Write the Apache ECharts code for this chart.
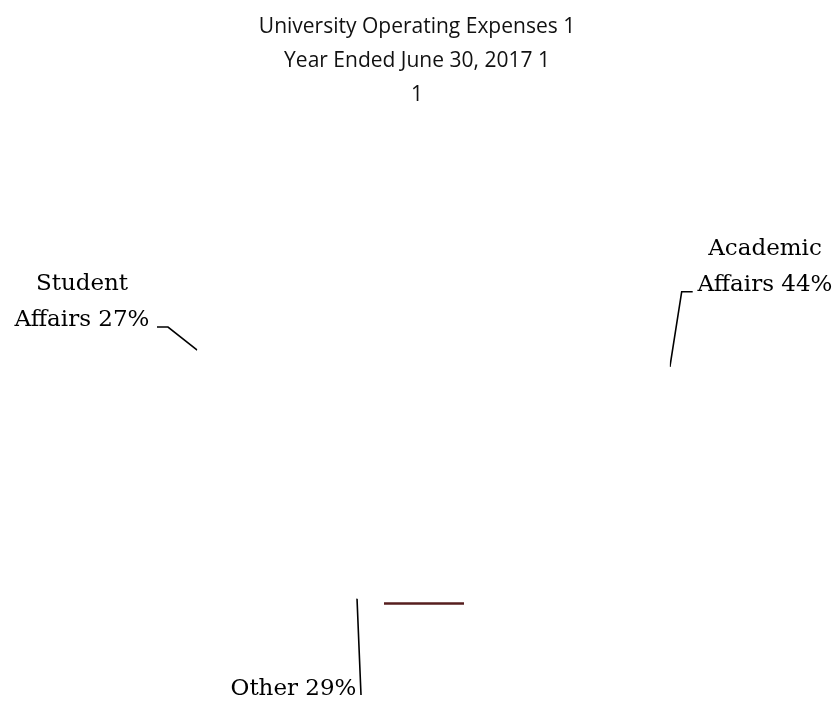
<!DOCTYPE html>
<html>
<head>
<meta charset="utf-8">
<script src="https://cdn.jsdelivr.net/npm/echarts@6/dist/echarts.min.js"></script>
<style>
html,body{margin:0;padding:0;background:#fff;}
#chart{width:834px;height:702px;}
</style>
</head>
<body>
<div id="chart"></div>
<script>
// Data
var titleLines = ['University Operating Expenses 1', 'Year Ended June 30, 2017 1', '1'];
var categories = ['Academic Affairs', 'Other', 'Student Affairs'];
var values = [44, 29, 27];

// Layout settings (not data)
var pieCenter = [433, 374];
var pieRadius = 237;
// angle (degrees clockwise from top) where each leader line touches the pie
var anchorAngles = [88.3, 198.7, 275.8];
var labelPlace = [
  {x: 765, y: 267, line: [[681.7, 291.7], [692.7, 291.7]]},
  {x: 293.5, y: 689, line: [[359, 647], [361, 695]]},
  {x: 82, y: 302, line: [[168, 327], [157, 327]]}
];

function anchorPoint(i) {
  var a = anchorAngles[i] * Math.PI / 180;
  return [pieCenter[0] + pieRadius * Math.sin(a), pieCenter[1] - pieRadius * Math.cos(a)];
}

var chart = echarts.init(document.getElementById('chart'), null, {renderer: 'canvas'});
var option = {
  backgroundColor: '#ffffff',
  animation: false,
  title: {
    text: titleLines.join('\n'),
    left: 'center',
    top: 5,
    textStyle: {
      fontFamily: 'Open Sans',
      fontSize: 21,
      fontWeight: 'normal',
      color: '#111111',
      lineHeight: 34
    }
  },
  graphic: [{
    type: 'line',
    z: 100,
    zlevel: 1,
    shape: {x1: 384, y1: 603.5, x2: 464, y2: 603.5},
    style: {stroke: '#561e1e', lineWidth: 2.5}
  }],
  series: [{
    type: 'pie',
    center: pieCenter,
    radius: pieRadius,
    startAngle: 90,
    clockwise: true,
    silent: true,
    itemStyle: {color: '#ffffff', borderWidth: 0},
    emphasis: {disabled: true},
    label: {
      show: true,
      position: 'outside',
      alignTo: 'none',
      overflow: 'none',
      fontFamily: 'DejaVu Serif',
      fontSize: 23,
      lineHeight: 36,
      color: '#000000',
      align: 'center',
      formatter: function (p) {
        return p.name.replace(' ', '\n') + ' ' + p.value + '%';
      }
    },
    labelLine: {
      show: true,
      lineStyle: {color: '#000000', width: 1.6}
    },
    labelLayout: function (params) {
      var i = params.dataIndex;
      var lp = labelPlace[i];
      return {
        x: lp.x,
        y: lp.y,
        align: 'center',
        verticalAlign: 'middle',
        labelLinePoints: [anchorPoint(i), lp.line[0], lp.line[1]]
      };
    },
    data: categories.map(function (c, i) { return {name: c, value: values[i]}; })
  }]
};
chart.setOption(option);
</script>
</body>
</html>
